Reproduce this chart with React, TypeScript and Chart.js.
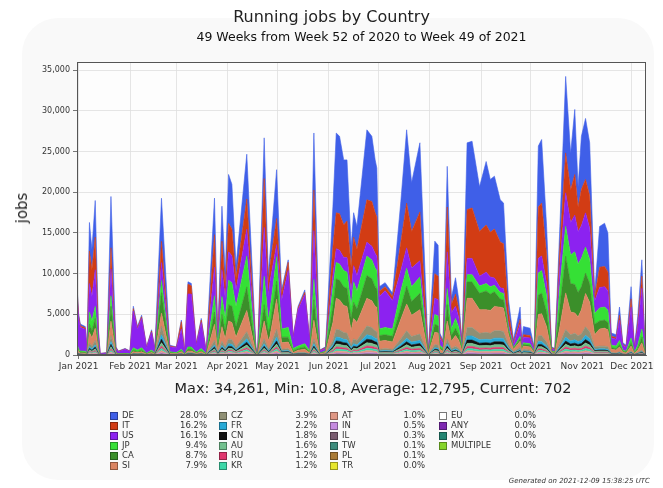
import React, { useEffect, useRef } from "react";
import { Chart, registerables } from "chart.js";
Chart.register(...registerables);

// Day offsets from 1 Jan 2021
const days = [-1,0,1,4,5,6.5,8,10,12,13,17,19.5,22.5,24,28,31,33,35.5,38,41,44,46,50,55,59,62,64,66,68,71,74,77,82,84,86.5,88.5,90.5,92.5,95,101.5,107,108,112,114.5,115.5,119.5,122.5,126.5,129.5,132.5,136.5,139.5,142,145.5,149,153.5,155.5,157.5,160,162,164.5,166,168,174,177,179,180,181.5,185,189.5,194.5,198,201,206,211,215,217,218,220,222.5,225,227.5,229.5,231.5,234.5,237.5,242,246,248.5,251,254.5,256.5,259.5,262.5,266.5,267.5,268.5,272.5,275,277.5,279.5,282.5,285.5,287.5,290.5,294,297,299.5,301.5,303.5,306,308.5,311.5,314.5,317.5,319.5,321.5,324.5,326.5,328.5,330.5,333.5,335.5,337.5,340,342];

const DE = [300,200,200,150,50,3500,2500,4500,400,20,30,6300,100,50,50,40,300,150,200,50,150,50,5300,100,50,200,20,300,300,50,200,30,4500,200,4300,1500,6000,5500,1500,5500,100,20,5000,1200,1500,6000,500,300,100,200,300,100,7000,50,100,5000,9800,9500,8000,7500,2500,3000,2800,8600,8000,6500,6000,600,500,400,5000,9000,6000,8500,40,4000,3800,300,200,5000,800,2000,1200,200,8200,8200,5500,7800,6500,6500,5200,5000,1500,400,1500,400,1000,900,200,7500,7800,3500,100,80,2500,9400,4500,8000,2500,6500,7500,6500,500,5000,5300,4800,400,350,1000,200,150,1500,150,800,2000,100];
const IT = [800,300,200,200,50,4000,3300,4000,500,20,30,2600,100,50,50,40,300,150,200,50,150,50,2600,100,50,900,30,1200,1000,100,300,30,4000,200,3500,1500,3500,3300,1500,3700,100,20,6000,1500,2000,3200,800,1000,100,200,300,100,5000,50,100,3500,4400,4500,4000,4500,3000,3500,3200,5200,5500,5000,4800,600,500,500,3500,5500,4500,6000,40,3000,2900,300,200,5500,1000,1500,1000,150,6000,6200,5500,5800,5500,6000,5600,5500,1500,200,600,200,300,300,100,6300,6500,3500,100,80,2300,4900,4000,5000,3000,4500,4100,4000,500,2500,2500,2300,200,200,600,100,100,1000,100,500,1500,80];
const US = [6000,3800,2900,2700,300,3500,3000,4500,1200,100,150,3300,500,250,500,300,4500,2600,3600,700,2200,500,2200,600,600,2500,250,6500,6500,900,3200,300,3500,900,3300,2500,3500,3300,2000,3300,300,60,6000,3000,3500,1500,3500,7000,1300,4500,6000,1200,6000,250,300,1500,1700,1700,1600,1800,1800,2000,1900,1700,1700,1800,1800,4000,4500,3500,2500,2500,2300,2000,120,2000,2000,900,600,4500,2000,1500,1200,400,2000,2000,1200,1400,1200,900,600,600,500,400,1500,400,700,700,300,1800,1800,1500,300,250,2500,4100,4000,4500,4000,4000,4200,3800,1500,2500,2500,2400,900,850,2500,600,500,3800,400,2200,5000,300];
const JP = [300,200,150,150,50,1500,1200,1500,200,10,20,1300,50,30,50,30,300,200,300,50,200,50,1500,100,100,200,30,300,300,100,300,40,2000,400,2200,1500,3000,2900,2500,3800,150,20,3500,1500,2000,3000,1000,1200,300,300,400,150,2500,50,100,2300,2000,2000,2000,2000,1500,2500,2200,2400,2300,2300,2200,800,900,900,2000,2200,1800,2000,40,1200,1200,300,200,2000,800,1200,900,150,900,900,900,900,900,800,800,800,300,100,300,100,200,200,50,2700,2800,2000,100,80,2500,3700,3500,4000,3500,3500,3200,3000,1300,1600,1600,1500,300,300,500,150,100,600,100,400,1000,60];
const CA = [200,100,100,100,50,1000,900,1200,200,10,20,1800,50,30,50,30,200,100,200,50,100,50,2500,100,50,100,20,200,200,50,100,30,1500,200,1500,1000,2000,2000,1300,2900,100,20,2000,1000,1200,2200,700,600,200,200,300,100,2500,50,100,2000,2400,2400,2300,2200,1500,2000,1700,2800,2700,2400,2300,700,700,700,1500,2200,1700,2000,40,1000,900,200,150,2000,700,900,700,150,2000,2000,2000,2300,2000,1800,1000,1000,500,100,300,100,200,200,50,2400,2500,1800,100,80,2500,4500,3500,3500,3000,2800,2500,2300,1300,1000,1000,900,200,200,300,100,100,400,50,200,700,40];
const SI = [400,200,100,100,50,1300,1000,1500,200,20,20,1800,100,40,50,30,200,150,200,50,150,50,1600,100,50,200,20,200,200,100,200,30,2000,300,1800,1000,2200,2100,1200,2600,100,30,2200,1000,1300,3700,800,800,150,300,400,150,2300,80,150,2200,3800,3700,3300,3300,1700,2500,2200,3400,3300,3000,3000,1000,1000,900,2400,3300,2600,3000,60,1500,1500,400,250,2200,900,1300,1000,250,3600,3600,2900,2800,2800,3000,2900,2900,1200,300,700,300,400,400,100,2600,2700,1900,150,110,2000,4500,2800,2500,2300,3000,4100,3600,1500,2100,2200,2100,400,350,600,200,150,600,100,300,900,60];
const CZ = [150,60,45,30,15,450,330,540,90,6,9,720,30,15,15,9,60,45,60,15,45,15,1080,30,30,60,9,90,90,30,60,12,540,90,510,300,600,570,300,870,45,9,600,240,300,960,210,240,45,90,90,30,600,21,45,540,960,930,840,810,390,600,540,1080,1020,900,870,210,240,210,600,900,690,780,18,390,360,90,60,600,240,330,240,60,1020,1020,810,840,810,900,900,870,390,120,300,90,210,180,60,720,720,480,45,36,450,948,750,810,720,780,1050,870,300,330,330,300,90,75,120,45,30,150,30,90,180,18];
const FR = [75,30,23,15,8,225,165,270,45,3,5,360,15,8,8,5,30,23,30,8,23,8,540,15,15,30,5,45,45,15,30,6,270,45,255,150,300,285,150,435,23,5,300,120,150,480,105,120,23,45,45,15,300,11,23,270,480,465,420,405,195,300,270,540,510,450,435,105,120,105,300,450,345,390,9,195,180,45,30,300,120,165,120,30,510,510,405,420,405,450,450,435,195,60,150,45,105,90,30,360,360,240,23,18,225,474,375,405,360,390,525,435,150,165,165,150,45,38,60,23,15,75,15,45,90,9];
const CN = [60,24,18,12,6,180,132,216,36,2,4,288,12,6,6,4,24,18,24,6,18,6,432,12,12,24,4,36,36,12,24,5,216,36,204,120,240,228,120,348,18,4,240,96,120,384,84,96,18,36,36,12,240,8,18,216,384,372,336,324,156,240,216,432,408,360,348,84,96,84,240,360,276,312,7,156,144,36,24,240,96,132,96,24,408,408,324,336,324,360,360,348,156,48,120,36,84,72,24,288,288,192,18,14,180,379,300,324,288,312,420,348,120,132,132,120,36,30,48,18,12,60,12,36,72,7];
const AU = [55,22,17,11,6,165,121,198,33,2,3,264,11,6,6,3,22,17,22,6,17,6,396,11,11,22,3,33,33,11,22,4,198,33,187,110,220,209,110,319,17,3,220,88,110,352,77,88,17,33,33,11,220,8,17,198,352,341,308,297,143,220,198,396,374,330,319,77,88,77,220,330,253,286,7,143,132,33,22,220,88,121,88,22,374,374,297,308,297,330,330,319,143,44,110,33,77,66,22,264,264,176,17,13,165,348,275,297,264,286,385,319,110,121,121,110,33,28,44,17,11,55,11,33,66,7];
const RU = [40,16,12,8,4,120,88,144,24,2,2,192,8,4,4,2,16,12,16,4,12,4,288,8,8,16,2,24,24,8,16,3,144,24,136,80,160,152,80,232,12,2,160,64,80,256,56,64,12,24,24,8,160,6,12,144,256,248,224,216,104,160,144,288,272,240,232,56,64,56,160,240,184,208,5,104,96,24,16,160,64,88,64,16,272,272,216,224,216,240,240,232,104,32,80,24,56,48,16,192,192,128,12,10,120,253,200,216,192,208,280,232,80,88,88,80,24,20,32,12,8,40,8,24,48,5];
const KR = [40,16,12,8,4,120,88,144,24,2,2,192,8,4,4,2,16,12,16,4,12,4,288,8,8,16,2,24,24,8,16,3,144,24,136,80,160,152,80,232,12,2,160,64,80,256,56,64,12,24,24,8,160,6,12,144,256,248,224,216,104,160,144,288,272,240,232,56,64,56,160,240,184,208,5,104,96,24,16,160,64,88,64,16,272,272,216,224,216,240,240,232,104,32,80,24,56,48,16,192,192,128,12,10,120,253,200,216,192,208,280,232,80,88,88,80,24,20,32,12,8,40,8,24,48,5];
const AT = [35,14,11,7,4,105,77,126,21,1,2,168,7,4,4,2,14,11,14,4,11,4,252,7,7,14,2,21,21,7,14,3,126,21,119,70,140,133,70,203,11,2,140,56,70,224,49,56,11,21,21,7,140,5,11,126,224,217,196,189,91,140,126,252,238,210,203,49,56,49,140,210,161,182,4,91,84,21,14,140,56,77,56,14,238,238,189,196,189,210,210,203,91,28,70,21,49,42,14,168,168,112,11,8,105,221,175,189,168,182,245,203,70,77,77,70,21,18,28,11,7,35,7,21,42,4];
const IN = [20,8,6,4,2,60,44,72,12,1,1,96,4,2,2,1,8,6,8,2,6,2,144,4,4,8,1,12,12,4,8,2,72,12,68,40,80,76,40,116,6,1,80,32,40,128,28,32,6,12,12,4,80,3,6,72,128,124,112,108,52,80,72,144,136,120,116,28,32,28,80,120,92,104,2,52,48,12,8,80,32,44,32,8,136,136,108,112,108,120,120,116,52,16,40,12,28,24,8,96,96,64,6,5,60,126,100,108,96,104,140,116,40,44,44,40,12,10,16,6,4,20,4,12,24,2];
const IL = [10,4,3,2,1,30,22,36,6,0,1,48,2,1,1,1,4,3,4,1,3,1,72,2,2,4,1,6,6,2,4,1,36,6,34,20,40,38,20,58,3,1,40,16,20,64,14,16,3,6,6,2,40,1,3,36,64,62,56,54,26,40,36,72,68,60,58,14,16,14,40,60,46,52,1,26,24,6,4,40,16,22,16,4,68,68,54,56,54,60,60,58,26,8,20,6,14,12,4,48,48,32,3,2,30,63,50,54,48,52,70,58,20,22,22,20,6,5,8,3,2,10,2,6,12,1];
const TW = [5,2,2,1,1,15,11,18,3,0,0,24,1,1,1,0,2,2,2,1,2,1,36,1,1,2,0,3,3,1,2,0,18,3,17,10,20,19,10,29,2,0,20,8,10,32,7,8,2,3,3,1,20,1,2,18,32,31,28,27,13,20,18,36,34,30,29,7,8,7,20,30,23,26,1,13,12,3,2,20,8,11,8,2,34,34,27,28,27,30,30,29,13,4,10,3,7,6,2,24,24,16,2,1,15,32,25,27,24,26,35,29,10,11,11,10,3,3,4,2,1,5,1,3,6,1];
const PL = [5,2,2,1,1,15,11,18,3,0,0,24,1,1,1,0,2,2,2,1,2,1,36,1,1,2,0,3,3,1,2,0,18,3,17,10,20,19,10,29,2,0,20,8,10,32,7,8,2,3,3,1,20,1,2,18,32,31,28,27,13,20,18,36,34,30,29,7,8,7,20,30,23,26,1,13,12,3,2,20,8,11,8,2,34,34,27,28,27,30,30,29,13,4,10,3,7,6,2,24,24,16,2,1,15,32,25,27,24,26,35,29,10,11,11,10,3,3,4,2,1,5,1,3,6,1];

const monthTickDays = [0,31,59,90,120,151,181,212,243,273,304,334];
const monthLabels = ["Jan 2021","Feb 2021","Mar 2021","Apr 2021","May 2021","Jun 2021","Jul 2021","Aug 2021","Sep 2021","Oct 2021","Nov 2021","Dec 2021"];
const yTicks = [0,5000,10000,15000,20000,25000,30000,35000];

// stacking order, bottom to top
const stackNames = ["PL","TW","IL","IN","AT","KR","RU","AU","CN","FR","CZ","SI","CA","JP","US","IT","DE"];
const stackData = [PL,TW,IL,IN,AT,KR,RU,AU,CN,FR,CZ,SI,CA,JP,US,IT,DE];

const colors: Record<string,string> = {
  DE:"#3f5fe8", IT:"#d23c14", US:"#8c22f0", JP:"#35e035", CA:"#3b8f2a", SI:"#db8462",
  CZ:"#8f8f74", FR:"#27a9d6", CN:"#111111", AU:"#72c08e", RU:"#e0356e", KR:"#3dd8a8",
  AT:"#df9784", IN:"#c58ae0", IL:"#7a5c70", TW:"#3c8c7c", PL:"#a97a35", TR:"#e6e62c",
  EU:"#ffffff", ANY:"#7d28b0", MX:"#238572", MULTIPLE:"#86d42a",
};

const legendCols = [
  ["DE","IT","US","JP","CA","SI"],
  ["CZ","FR","CN","AU","RU","KR"],
  ["AT","IN","IL","TW","PL","TR"],
  ["EU","ANY","MX","MULTIPLE"],
];
const legendPcts = [
  ["28.0%","16.2%","16.1%","9.4%","8.7%","7.9%"],
  ["3.9%","2.2%","1.8%","1.6%","1.2%","1.2%"],
  ["1.0%","0.5%","0.3%","0.1%","0.1%","0.0%"],
  ["0.0%","0.0%","0.0%","0.0%"],
];

const titleText = "Running jobs by Country";
const subtitleText = "49 Weeks from Week 52 of 2020 to Week 49 of 2021";
const statsText = "Max: 34,261, Min: 10.8, Average: 12,795, Current: 702";
const generatedText = "Generated on 2021-12-09 15:38:25 UTC";

const FONT = "'DejaVu Sans', sans-serif";

const frame = {
  id: "frame",
  beforeDraw(chart: any) {
    const { ctx, chartArea: a } = chart;
    ctx.save();
    ctx.fillStyle = "#fdfdfd";
    ctx.fillRect(a.left, a.top, a.right - a.left, a.bottom - a.top);
    ctx.restore();
  },
  afterDraw(chart: any) {
    const { ctx, chartArea: a } = chart;
    ctx.save();
    ctx.strokeStyle = "#555";
    ctx.lineWidth = 1;
    ctx.strokeRect(a.left + 0.5, a.top + 0.5, a.right - a.left - 1, a.bottom - a.top - 1);
    ctx.restore();
  },
};

export default function App() {
  const ref = useRef<HTMLCanvasElement>(null);
  useEffect(() => {
    if (!ref.current) return;
    const datasets = stackNames.map((name, k) => ({
      label: name,
      data: days.map((d, i) => ({ x: d, y: stackData[k][i] })),
      backgroundColor: colors[name],
      borderColor: colors[name],
      borderWidth: 0.6,
      fill: k === 0 ? "origin" : "-1",
      pointRadius: 0,
      tension: 0,
    }));
    const chart = new Chart(ref.current, {
      type: "line",
      data: { datasets },
      plugins: [frame],
      options: {
        animation: false,
        responsive: false,
        maintainAspectRatio: false,
        layout: { padding: { left: 7, right: 17, top: 62, bottom: 113 } },
        plugins: { legend: { display: false }, tooltip: { enabled: false } },
        scales: {
          x: {
            type: "linear",
            min: -1,
            max: 342.5,
            afterBuildTicks: (s: any) => { s.ticks = monthTickDays.map((v) => ({ value: v })); },
            afterFit: (s: any) => { s.height = 20; },
            ticks: {
              autoSkip: false,
              maxRotation: 0,
              padding: 2,
              color: "#333",
              font: { family: FONT, size: 9 },
              callback: (v: any) => monthLabels[monthTickDays.indexOf(Number(v))] ?? "",
            },
            grid: { color: "#dedede", lineWidth: 0.8, tickLength: 4, tickColor: "#555" },
            border: { display: true, color: "#555" },
          },
          y: {
            stacked: true,
            min: 0,
            max: 36000,
            afterBuildTicks: (s: any) => { s.ticks = yTicks.map((v) => ({ value: v })); },
            afterFit: (s: any) => { s.width = 70; },
            ticks: {
              padding: 3,
              color: "#333",
              font: { family: FONT, size: 8 },
              callback: (v: any) => Number(v).toLocaleString("en-US"),
            },
            grid: { color: "#dedede", lineWidth: 0.8, tickLength: 4, tickColor: "#555" },
            border: { display: true, color: "#555" },
          },
        },
      },
    } as any);
    return () => chart.destroy();
  }, []);

  const legendX = [110, 219, 330, 439];
  const pctRight = [207, 317, 425, 536];

  return (
    <div style={{ position: "absolute", left: 0, top: 0, width: 663, height: 488, background: "#fff", fontFamily: FONT, overflow: "hidden" }}>
      <div style={{ position: "absolute", left: 22, top: 18, width: 632, height: 462, borderRadius: 36, background: "#f9f9f9" }} />
      <canvas ref={ref} width={663} height={488} style={{ position: "absolute", left: 0, top: 0, width: 663, height: 488 }} />
      <div style={{ position: "absolute", left: 0, width: 663, top: 7, textAlign: "center", fontSize: 16, color: "#222", whiteSpace: "nowrap" }}>{titleText}</div>
      <div style={{ position: "absolute", left: 77, width: 569, top: 29, textAlign: "center", fontSize: 12.5, color: "#111", whiteSpace: "nowrap" }}>{subtitleText}</div>
      <div style={{ position: "absolute", left: 22, top: 208, transform: "translate(-50%,-50%) rotate(-90deg)", fontSize: 15, color: "#222", whiteSpace: "nowrap" }}>jobs</div>
      <div style={{ position: "absolute", left: 373, top: 388, transform: "translate(-50%,-50%)", fontSize: 14.5, color: "#222", whiteSpace: "nowrap" }}>{statsText}</div>
      {legendCols.map((col, c) =>
        col.map((name, r) => (
          <React.Fragment key={name}>
            <div style={{ position: "absolute", left: legendX[c], top: 412 + r * 10, width: 6, height: 6, background: colors[name], border: "1px solid " + (name === "EU" ? "#777" : "rgba(0,0,0,0.35)") }} />
            <div style={{ position: "absolute", left: legendX[c] + 12, top: 410 + r * 10, fontSize: 8.5, lineHeight: "11px", color: "#333", whiteSpace: "nowrap" }}>{name}</div>
            <div style={{ position: "absolute", left: pctRight[c] - 60, width: 60, textAlign: "right", top: 410 + r * 10, fontSize: 8.5, lineHeight: "11px", color: "#333", whiteSpace: "nowrap" }}>{legendPcts[c][r]}</div>
          </React.Fragment>
        ))
      )}
      <div style={{ position: "absolute", right: 13, top: 477, fontSize: 7, fontStyle: "italic", color: "#333", whiteSpace: "nowrap" }}>{generatedText}</div>
    </div>
  );
}
